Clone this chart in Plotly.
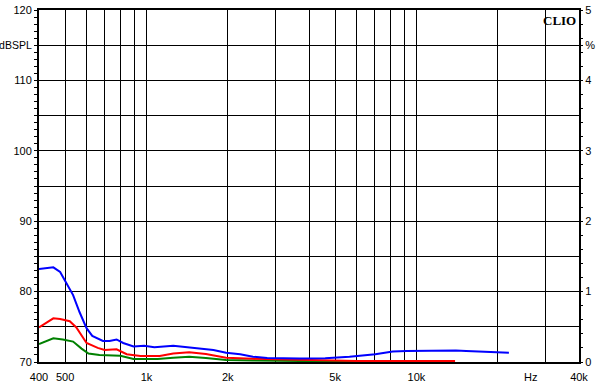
import numpy as np
import plotly.graph_objects as go

# ---- data ----
blue_f = [400, 452, 479, 506, 535, 565, 600, 630, 690, 730, 775, 820, 896, 981, 1070,
          1257, 1400, 1570, 1770, 1973, 2225, 2480, 2800, 3690, 4592, 5650, 6300, 7040,
          8170, 9200, 14000, 15290, 22000]
blue_v = [83.2, 83.45, 82.8, 81.2, 79.5, 77.1, 74.8, 73.7, 73.0, 73.0, 73.2, 72.7, 72.2,
          72.3, 72.1, 72.3, 72.1, 71.85, 71.7, 71.3, 71.1, 70.75, 70.57, 70.5, 70.55,
          70.75, 70.95, 71.1, 71.5, 71.56, 71.65, 71.56, 71.3]

red_f = [400, 452, 479, 520, 550, 600, 660, 700, 775, 845, 950, 1120, 1257, 1440, 1660,
         1973, 2480, 3690, 4790, 6000, 7500, 9000, 13900]
red_v = [74.9, 76.2, 76.1, 75.8, 74.9, 72.7, 72.0, 71.7, 71.8, 71.1, 70.85, 70.85, 71.2,
         71.4, 71.15, 70.6, 70.45, 70.3, 70.2, 70.15, 70.15, 70.15, 70.15]

green_f = [400, 452, 490, 535, 575, 610, 670, 800, 896, 1100, 1257, 1440, 1660, 1973,
           2480, 3690, 5000, 9000]
green_v = [72.56, 73.36, 73.2, 72.9, 71.9, 71.2, 71.0, 70.9, 70.43, 70.43, 70.6, 70.75,
           70.57, 70.28, 70.2, 70.1, 70.1, 70.1]

x_grid = [500, 600, 700, 800, 900, 1000, 2000, 3000, 4000, 5000, 6000, 7000, 8000,
          9000, 10000, 20000, 30000]
x_label_vals = [400, 500, 1000, 2000, 5000, 10000, 26500, 40000]
x_label_text = ["400", "500", "1k", "2k", "5k", "10k", "Hz", "40k"]

y_left_vals = [70, 75, 80, 85, 90, 95, 100, 105, 110, 115, 120]
y_left_text = ["70", "", "80", "", "90", "", "100", "", "110",
               "<span style='font-size:10.5px'>dBSPL</span>", "120"]
y_right_vals = [0, 1, 2, 3, 4, 4.5, 5]
y_right_text = ["0", "1", "2", "3", "4", "%", "5"]

FONT = "Liberation Sans, Arial, sans-serif"
FS = 11

fig = go.Figure()
fig.add_trace(go.Scatter(x=green_f, y=green_v, mode="lines",
                         line=dict(color="#008000", width=2), xaxis="x", yaxis="y"))
fig.add_trace(go.Scatter(x=red_f, y=red_v, mode="lines",
                         line=dict(color="#ff0000", width=2), xaxis="x", yaxis="y"))
fig.add_trace(go.Scatter(x=blue_f, y=blue_v, mode="lines",
                         line=dict(color="#0000ff", width=2), xaxis="x", yaxis="y"))

xr = [np.log10(400), np.log10(40000)]
fig.update_layout(
    width=596, height=390,
    margin=dict(l=39, r=17, t=10, b=28),
    paper_bgcolor="white", plot_bgcolor="white",
    showlegend=False,
    font=dict(family=FONT, size=FS, color="black"),
    xaxis=dict(type="log", range=xr, tickmode="array", tickvals=x_grid,
               showticklabels=False, ticks="", showgrid=True, gridcolor="black",
               gridwidth=1, showline=True, linecolor="black", linewidth=2,
               mirror=True, zeroline=False, automargin=False),
    xaxis2=dict(type="log", range=xr, overlaying="x", side="bottom", anchor="y",
                tickmode="array", tickvals=x_label_vals, ticktext=x_label_text,
                showgrid=False, ticks="", showline=False, zeroline=False,
                automargin=False, ticklabelstandoff=7,
                tickfont=dict(family=FONT, size=FS, color="black")),
    yaxis=dict(range=[70, 120], tickmode="array", tickvals=y_left_vals,
               ticktext=y_left_text, showgrid=True, gridcolor="black", gridwidth=1,
               showline=True, linecolor="black", linewidth=2, mirror=True,
               ticks="outside", ticklen=3, tickcolor="black", zeroline=False,
               automargin=False, ticklabelstandoff=0,
               minor=dict(tickmode="array", tickvals=list(range(70, 121)),
                          ticks="outside", ticklen=3, tickcolor="black", showgrid=False),
               tickfont=dict(family=FONT, size=FS, color="black")),
    yaxis2=dict(range=[0, 5], overlaying="y", side="right", anchor="x",
                tickmode="array", tickvals=y_right_vals, ticktext=y_right_text,
                showgrid=False, showline=False, zeroline=False, automargin=False,
                ticks="outside", ticklen=3, tickcolor="black", ticklabelstandoff=0,
                minor=dict(tickmode="array",
                           tickvals=[round(i * 0.2, 1) for i in range(26)],
                           ticks="outside", ticklen=3, tickcolor="black", showgrid=False),
                tickfont=dict(family=FONT, size=FS, color="black")),
    annotations=[dict(text="<b>CLIO</b>", x=1, y=1, xref="paper", yref="paper",
                      xanchor="right", yanchor="top", xshift=-1, yshift=-1,
                      showarrow=False,
                      font=dict(family="Liberation Serif, Times New Roman, serif",
                                size=13, color="black"))],
)
# dummy trace so xaxis2 / yaxis2 render
fig.add_trace(go.Scatter(x=[400], y=[0], mode="markers", marker=dict(opacity=0),
                         xaxis="x2", yaxis="y2", hoverinfo="skip"))

fig.write_html("out.html")
